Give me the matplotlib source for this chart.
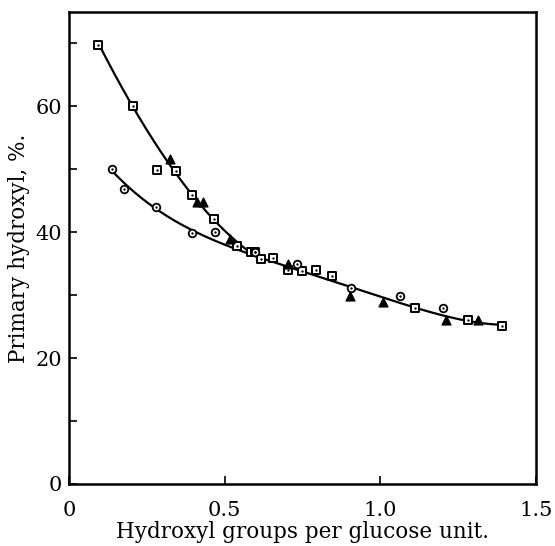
import numpy as np
import matplotlib
matplotlib.use("Agg")
import matplotlib.pyplot as plt

plt.rcParams['font.family'] = ['DejaVu Serif']

# squares (open, dotted centre)
sq_x = [0.092, 0.205, 0.284, 0.345, 0.396, 0.466, 0.539, 0.584, 0.598, 0.617,
        0.656, 0.704, 0.748, 0.793, 0.846, 1.111, 1.283, 1.390]
sq_y = [69.8, 60.0, 49.9, 49.8, 45.9, 42.1, 37.8, 36.9, 36.9, 35.7,
        35.9, 34.0, 33.8, 34.0, 33.1, 28.0, 26.1, 25.1]

# filled triangles
tri_x = [0.324, 0.410, 0.429, 0.517, 0.704, 0.903, 1.010, 1.212, 1.314]
tri_y = [51.7, 44.8, 44.8, 38.9, 35.0, 29.9, 28.9, 26.0, 26.0]

# open circles
circ_x = [0.137, 0.177, 0.280, 0.396, 0.469, 0.598, 0.733, 0.905, 1.063, 1.202]
circ_y = [50.0, 46.9, 44.0, 39.9, 40.0, 36.9, 35.0, 31.2, 29.8, 28.0]

# hand drawn curves
upper_x = [0.095, 0.15, 0.205, 0.26, 0.32, 0.38, 0.44, 0.50, 0.55, 0.60]
upper_y = [70.0, 64.8, 60.0, 55.3, 51.0, 47.0, 43.5, 40.2, 37.8, 36.3]
lower_x = [0.14, 0.2, 0.3, 0.4, 0.5, 0.6, 0.7, 0.8, 0.9, 1.0, 1.1, 1.2, 1.3, 1.39]
lower_y = [50.0, 46.3, 43.2, 40.0, 38.2, 36.4, 34.6, 33.0, 31.3, 29.5, 28.1, 27.0, 26.0, 25.1]

fig = plt.figure(figsize=(5.55, 5.46), dpi=100)
ax = fig.add_axes([0.1243, 0.1136, 0.8415, 0.8644])

# smooth curves
cu = np.polyfit(upper_x, upper_y, 3)
xu = np.linspace(upper_x[0], upper_x[-1], 200)
ax.plot(xu, np.polyval(cu, xu), color='black', lw=1.6, zorder=2)
cl = np.polyfit(lower_x, lower_y, 4)
xl = np.linspace(lower_x[0], lower_x[-1], 300)
ax.plot(xl, np.polyval(cl, xl), color='black', lw=1.6, zorder=2)

ax.scatter(sq_x, sq_y, marker='s', s=30, facecolor='white', edgecolor='black',
           linewidth=1.4, zorder=3)
ax.scatter(sq_x, sq_y, marker='.', s=2, color='black', zorder=4)
ax.scatter(circ_x, circ_y, marker='o', s=30, facecolor='white', edgecolor='black',
           linewidth=1.3, zorder=3)
ax.scatter(circ_x, circ_y, marker='.', s=2, color='black', zorder=4)
ax.scatter(tri_x, tri_y, marker='^', s=40, color='black', zorder=3)

ax.set_xlim(0, 1.5)
ax.set_ylim(0, 75)
ax.set_xticks([0, 0.5, 1.0, 1.5])
ax.set_xticklabels(['0', '0.5', '1.0', '1.5'])
ax.set_yticks([0, 20, 40, 60])
ax.set_yticks([10, 30, 50, 70], minor=True)
ax.tick_params(which='both', direction='in', length=6, width=1.2, labelsize=15, pad=5)
ax.tick_params(axis='x', pad=12)

for sp in ax.spines.values():
    sp.set_linewidth(1.8)

ax.set_xlabel('Hydroxyl groups per glucose unit.', fontsize=15.5, labelpad=1)
ax.set_ylabel('Primary hydroxyl, %.', fontsize=15.5, labelpad=4)

fig.savefig('out.png', dpi=100)
